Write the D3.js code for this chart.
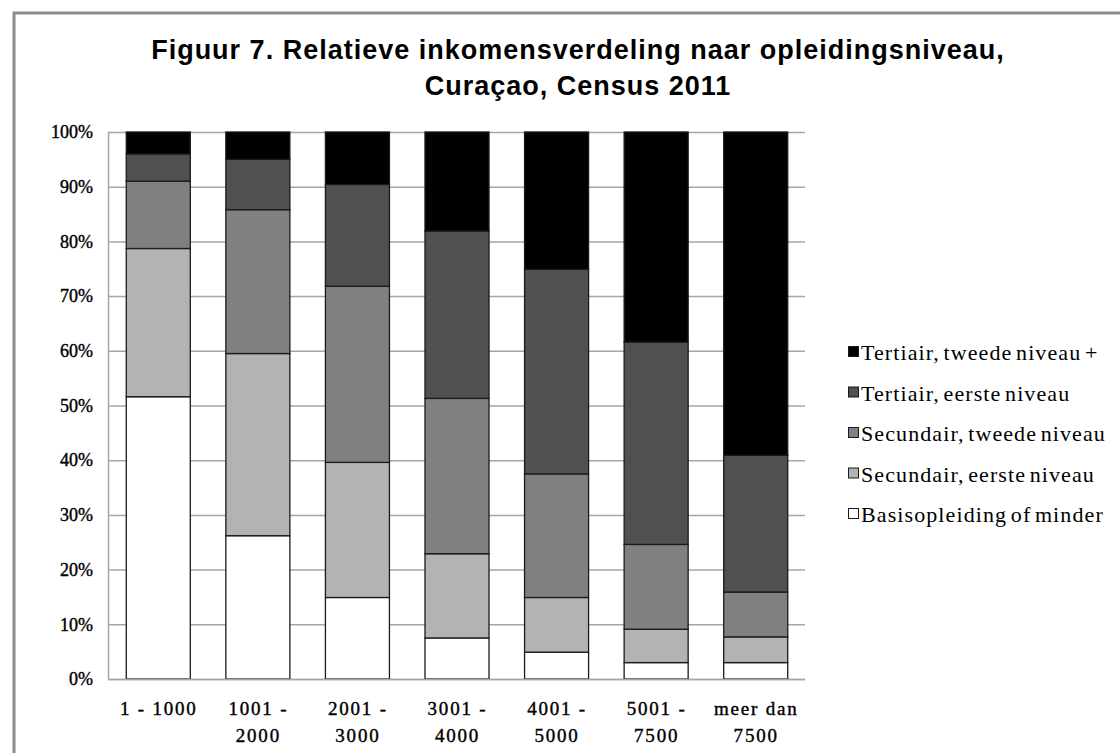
<!DOCTYPE html>
<html>
<head>
<meta charset="utf-8">
<script src="https://cdn.jsdelivr.net/npm/d3@7"></script>
<style>
  html, body { margin: 0; padding: 0; background: #fff; }
  svg { display: block; }
</style>
</head>
<body>
<svg id="chart" width="1120" height="753"></svg>
<script>
// ---- data ----
const categories = ["1 - 1000", "1001 - 2000", "2001 - 3000", "3001 - 4000", "4001 - 5000", "5001 - 7500", "meer dan 7500"];
const categoryLines = [["1 - 1000"], ["1001 -", "2000"], ["2001 -", "3000"], ["3001 -", "4000"], ["4001 -", "5000"], ["5001 -", "7500"], ["meer dan", "7500"]];
const seriesNames = ["Basisopleiding of minder", "Secundair, eerste niveau", "Secundair, tweede niveau", "Tertiair, eerste niveau", "Tertiair, tweede niveau +"];
const basisopleiding = [51.6, 26.2, 14.9, 7.5, 4.9, 3.0, 3.0];
const secundairEerste = [27.1, 33.3, 24.7, 15.4, 10.0, 6.1, 4.7];
const secundairTweede = [12.3, 26.3, 32.2, 28.4, 22.6, 15.5, 8.2];
const tertiairEerste = [5.0, 9.2, 18.6, 30.6, 37.4, 37.0, 25.0];
const tertiairTweede = [4.0, 5.0, 9.6, 18.1, 25.1, 38.4, 59.1];
const yTicks = [0, 10, 20, 30, 40, 50, 60, 70, 80, 90, 100];
const titleLines = ["Figuur 7. Relatieve inkomensverdeling naar opleidingsniveau,", "Curaçao, Census 2011"];

// ---- styling ----
const colors = ["#ffffff", "#b3b3b3", "#808080", "#505050", "#000000"];
const svg = d3.select("#chart");

// outer frame
svg.append("rect").attr("x", 14).attr("y", 13).attr("width", 1200).attr("height", 800)
  .attr("fill", "#fff").attr("stroke", "#8c8c8c").attr("stroke-width", 3);

// title
const title = svg.append("text").attr("text-anchor", "middle")
  .attr("font-family", "Liberation Sans, Arial, sans-serif").attr("font-weight", "bold")
  .attr("font-size", 27).attr("letter-spacing", 1.0).attr("fill", "#000");
titleLines.forEach((t, i) => {
  title.append("tspan").attr("x", 578).attr("y", 59 + i * 36).text(t);
});

const plot = { left: 108, right: 805, top: 132, bottom: 679 };

const x = d3.scaleBand().domain(categories).range([plot.left, plot.right])
  .paddingInner(0.357).paddingOuter(0.357 / 2);
const y = d3.scaleLinear().domain([0, 100]).range([plot.bottom, plot.top]);

// gridlines
svg.append("g").selectAll("line").data(yTicks).join("line")
  .attr("x1", plot.left).attr("x2", plot.right)
  .attr("y1", d => y(d) + 0.5).attr("y2", d => y(d) + 0.5)
  .attr("stroke", "#a6a6a6").attr("stroke-width", 1.5);

// y axis line
svg.append("line").attr("x1", plot.left + 0.5).attr("x2", plot.left + 0.5)
  .attr("y1", plot.top).attr("y2", plot.bottom)
  .attr("stroke", "#a6a6a6").attr("stroke-width", 1.5);

// y axis labels
const yAxis = d3.axisLeft(y).tickValues(yTicks).tickFormat(d => d + "%").tickSize(0).tickPadding(15);
const yg = svg.append("g").attr("transform", `translate(${plot.left},0)`).call(yAxis);
yg.select(".domain").remove();
yg.selectAll("text").attr("font-family", "Liberation Serif, Times New Roman, serif")
  .attr("font-size", 18).attr("fill", "#000")
  .attr("stroke", "#000").attr("stroke-width", 0.4);

// stacked bars
const rows = categories.map((c, i) => ({
  cat: c,
  [seriesNames[0]]: basisopleiding[i],
  [seriesNames[1]]: secundairEerste[i],
  [seriesNames[2]]: secundairTweede[i],
  [seriesNames[3]]: tertiairEerste[i],
  [seriesNames[4]]: tertiairTweede[i]
}));
const stacked = d3.stack().keys(seriesNames)(rows);

svg.append("g").selectAll("g").data(stacked).join("g")
  .attr("fill", (d, i) => colors[i])
  .selectAll("rect").data(d => d).join("rect")
  .attr("x", d => x(d.data.cat) + 0.5)
  .attr("width", x.bandwidth())
  .attr("y", d => y(Math.min(d[1], 100)))
  .attr("height", d => y(d[0]) - y(Math.min(d[1], 100)))
  .attr("stroke", "#1a1a1a").attr("stroke-width", 1.3);

// bottom axis line
svg.append("line").attr("x1", plot.left).attr("x2", plot.right)
  .attr("y1", plot.bottom + 0.5).attr("y2", plot.bottom + 0.5)
  .attr("stroke", "#a6a6a6").attr("stroke-width", 1.5);

// x labels
const xl = svg.append("g").selectAll("text").data(categories).join("text")
  .attr("text-anchor", "middle")
  .attr("font-family", "Liberation Serif, Times New Roman, serif")
  .attr("font-size", 19).attr("letter-spacing", 1.8).attr("fill", "#000")
  .attr("stroke", "#000").attr("stroke-width", 0.4);
xl.each(function (d, i) {
  const cx = x(d) + x.bandwidth() / 2 + 1;
  categoryLines[i].forEach((line, j) => {
    d3.select(this).append("tspan").attr("x", cx).attr("y", 715 + j * 27).text(line);
  });
});

// legend (top = last series)
const legendItems = seriesNames.map((n, i) => ({ name: n, color: colors[i] })).reverse();
const lg = svg.append("g").attr("transform", "translate(848,353)");
const li = lg.selectAll("g").data(legendItems).join("g")
  .attr("transform", (d, i) => `translate(0,${i * 40.5})`);
li.append("rect").attr("x", 0.5).attr("y", -6.5).attr("width", 10).attr("height", 10)
  .attr("fill", d => d.color).attr("stroke", "#1a1a1a").attr("stroke-width", 1);
li.append("text").attr("x", 13).attr("y", 0).attr("dy", "0.33em")
  .attr("font-family", "Liberation Serif, Times New Roman, serif")
  .attr("font-size", 22).attr("letter-spacing", 1.1).attr("word-spacing", -3).attr("fill", "#000").text(d => d.name);
</script>
</body>
</html>
